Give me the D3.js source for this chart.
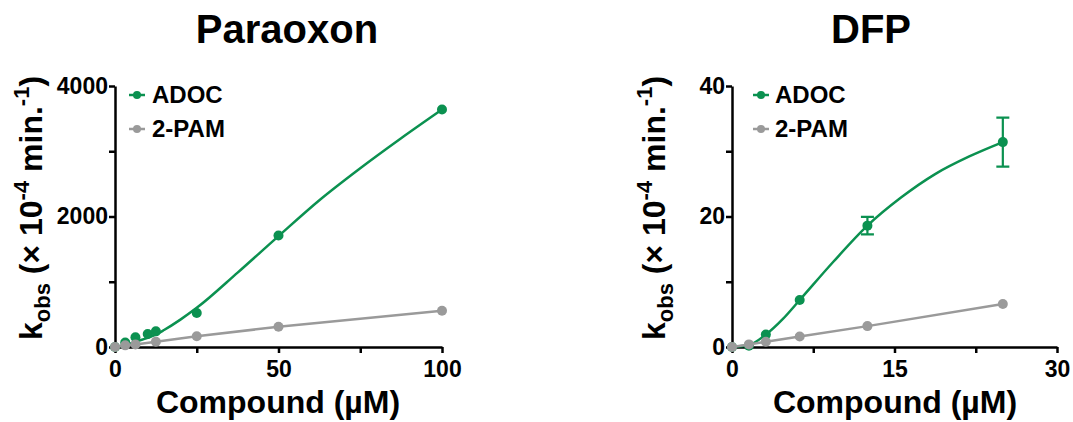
<!DOCTYPE html>
<html>
<head>
<meta charset="utf-8">
<script src="https://cdn.jsdelivr.net/npm/d3@7"></script>
<style>
  body { margin: 0; background: #fff; }
  svg text { font-family: "Liberation Sans", Arial, sans-serif; font-weight: bold; fill: #000; }
</style>
</head>
<body>
<svg id="chart" width="1073" height="422"></svg>
<script>
const green = '#0b9150'
const gray = '#9a9a9a'

// Paraoxon panel
const paraoxonAdocConc = [0, 3.125, 6.25, 10, 12.5, 25, 50, 100]
const paraoxonAdocKobs = [0, 70, 150, 200, 240, 520, 1710, 3640]
const paraoxonAdocFit = [[0, 0], [3, 25], [6.25, 80], [10, 140], [12.5, 190], [15, 260], [20, 420], [25, 600],
    [37.5, 1140], [50, 1700], [62.5, 2250], [75, 2740], [87.5, 3200], [100, 3640]]
const paraoxonPamConc = [0, 3.125, 6.25, 12.5, 25, 50, 100]
const paraoxonPamKobs = [0, 25, 40, 80, 165, 310, 555]
const paraoxonXTicks = [0, 25, 50, 75, 100]
const paraoxonXLabels = [0, 50, 100]
const paraoxonYTicks = [0, 1000, 2000, 3000, 4000]
const paraoxonYLabels = [0, 2000, 4000]

// DFP panel
const dfpAdocConc = [0, 1.5625, 3.125, 6.25, 12.5, 25]
const dfpAdocKobs = [0, 0.2, 1.9, 7.2, 18.6, 31.4]
const dfpAdocErr = [0, 0, 0, 0, 1.35, 3.75]
const dfpAdocFit = [[0, 0], [1.5625, 0.3], [3.125, 1.9], [4.7, 4.3], [6.25, 7.2], [9.375, 13.1], [12.5, 18.6],
    [15.6, 22.9], [18.75, 26.5], [21.9, 29.2], [25, 31.4]]
const dfpPamConc = [0, 1.5625, 3.125, 6.25, 12.5, 25]
const dfpPamKobs = [0, 0.4, 0.8, 1.6, 3.2, 6.6]
const dfpXTicks = [0, 7.5, 15, 22.5, 30]
const dfpXLabels = [0, 15, 30]
const dfpYTicks = [0, 10, 20, 30, 40]
const dfpYLabels = [0, 20, 40]

const seriesNames = ['ADOC', '2-PAM']

const panels = [
    {
        title: 'Paraoxon', titleX: 287, left: 115, right: 442, xMax: 100, yMax: 4000,
        xTicks: paraoxonXTicks, xLabels: paraoxonXLabels, yTicks: paraoxonYTicks, yLabels: paraoxonYLabels,
        adoc: paraoxonAdocConc.map((c, i) => ({ x: c, y: paraoxonAdocKobs[i], e: 0 })),
        fit: paraoxonAdocFit,
        pam: paraoxonPamConc.map((c, i) => ({ x: c, y: paraoxonPamKobs[i] })),
        yLabelX: 42, legendDot: 22, legendText: 37, xLabelX: 278
    },
    {
        title: 'DFP', titleX: 871, left: 732, right: 1057, xMax: 30, yMax: 40,
        xTicks: dfpXTicks, xLabels: dfpXLabels, yTicks: dfpYTicks, yLabels: dfpYLabels,
        adoc: dfpAdocConc.map((c, i) => ({ x: c, y: dfpAdocKobs[i], e: dfpAdocErr[i] })),
        fit: dfpAdocFit,
        pam: dfpPamConc.map((c, i) => ({ x: c, y: dfpPamKobs[i] })),
        yLabelX: 665, legendDot: 29, legendText: 43, xLabelX: 895
    }
]

const svg = d3.select('#chart')
const plotTop = 86, plotBottom = 347

panels.forEach(p => {
    const x = d3.scaleLinear().domain([0, p.xMax]).range([p.left, p.right])
    const y = d3.scaleLinear().domain([0, p.yMax]).range([plotBottom, plotTop])
    const g = svg.append('g')

    // axes
    const xAxis = d3.axisBottom(x).tickValues(p.xTicks).tickSize(6).tickSizeOuter(0)
        .tickFormat(d => p.xLabels.includes(d) ? d : '')
    const yAxis = d3.axisLeft(y).tickValues(p.yTicks).tickSize(6).tickSizeOuter(0)
        .tickFormat(d => p.yLabels.includes(d) ? d : '')
    const gx = g.append('g').attr('transform', `translate(0,${plotBottom})`).call(xAxis)
    const gy = g.append('g').attr('transform', `translate(${p.left},0)`).call(yAxis)
    ;[gx, gy].forEach(a => {
        a.selectAll('path, line').attr('stroke', '#000').attr('stroke-width', 2.5)
        a.selectAll('text').style('font-size', '23px').attr('fill', '#000')
    })
    gx.selectAll('text').attr('dy', '0.92em')
    gy.selectAll('text').attr('x', -7)

    // ADOC fitted curve + points + error bars
    const line = d3.line().x(d => x(d[0])).y(d => y(d[1])).curve(d3.curveMonotoneX)
    g.append('path').datum(p.fit).attr('d', line)
        .attr('fill', 'none').attr('stroke', green).attr('stroke-width', 2.5)
    const errs = p.adoc.filter(d => d.e > 0)
    g.selectAll('.err').data(errs).enter().append('path')
        .attr('d', d => `M${x(d.x)},${y(d.y - d.e)}V${y(d.y + d.e)}M${x(d.x) - 6.5},${y(d.y + d.e)}h13M${x(d.x) - 6.5},${y(d.y - d.e)}h13`)
        .attr('stroke', green).attr('stroke-width', 2.2).attr('fill', 'none')
    g.selectAll('.adoc').data(p.adoc).enter().append('circle')
        .attr('cx', d => x(d.x)).attr('cy', d => y(d.y)).attr('r', 5).attr('fill', green)

    // 2-PAM line + points
    const pamLine = d3.line().x(d => x(d.x)).y(d => y(d.y))
    g.append('path').datum(p.pam).attr('d', pamLine)
        .attr('fill', 'none').attr('stroke', gray).attr('stroke-width', 2.5)
    g.selectAll('.pam').data(p.pam).enter().append('circle')
        .attr('cx', d => x(d.x)).attr('cy', d => y(d.y)).attr('r', 5).attr('fill', gray)

    // legend
    const lg = g.append('g')
    ;[green, gray].forEach((c, i) => {
        const ly = 95 + i * 34
        const lx = p.left + p.legendDot
        lg.append('line').attr('x1', lx - 8).attr('x2', lx + 8).attr('y1', ly).attr('y2', ly)
            .attr('stroke', c).attr('stroke-width', 2.5)
        lg.append('circle').attr('cx', lx).attr('cy', ly).attr('r', 4).attr('fill', c)
        lg.append('text').attr('x', p.left + p.legendText).attr('y', ly + 8)
            .style('font-size', '24px').text(seriesNames[i])
    })

    // titles
    g.append('text').attr('x', p.titleX).attr('y', 43).attr('text-anchor', 'middle')
        .style('font-size', '40px').text(p.title)
    g.append('text').attr('x', p.xLabelX).attr('y', 413).attr('text-anchor', 'middle')
        .style('font-size', '32px').text('Compound (µM)')

    const yl = g.append('text').attr('transform', `translate(${p.yLabelX},208) rotate(-90)`)
        .attr('text-anchor', 'middle').style('font-size', '32px')
    yl.append('tspan').text('k')
    yl.append('tspan').style('font-size', '22px').attr('dy', 8).text('obs')
    yl.append('tspan').attr('dy', -8).text(' (× 10')
    yl.append('tspan').style('font-size', '22px').attr('dy', -13).text('-4')
    yl.append('tspan').attr('dy', 13).text(' min.')
    yl.append('tspan').style('font-size', '22px').attr('dy', -13).text('-1')
    yl.append('tspan').attr('dy', 13).text(')')
})
</script>
</body>
</html>
